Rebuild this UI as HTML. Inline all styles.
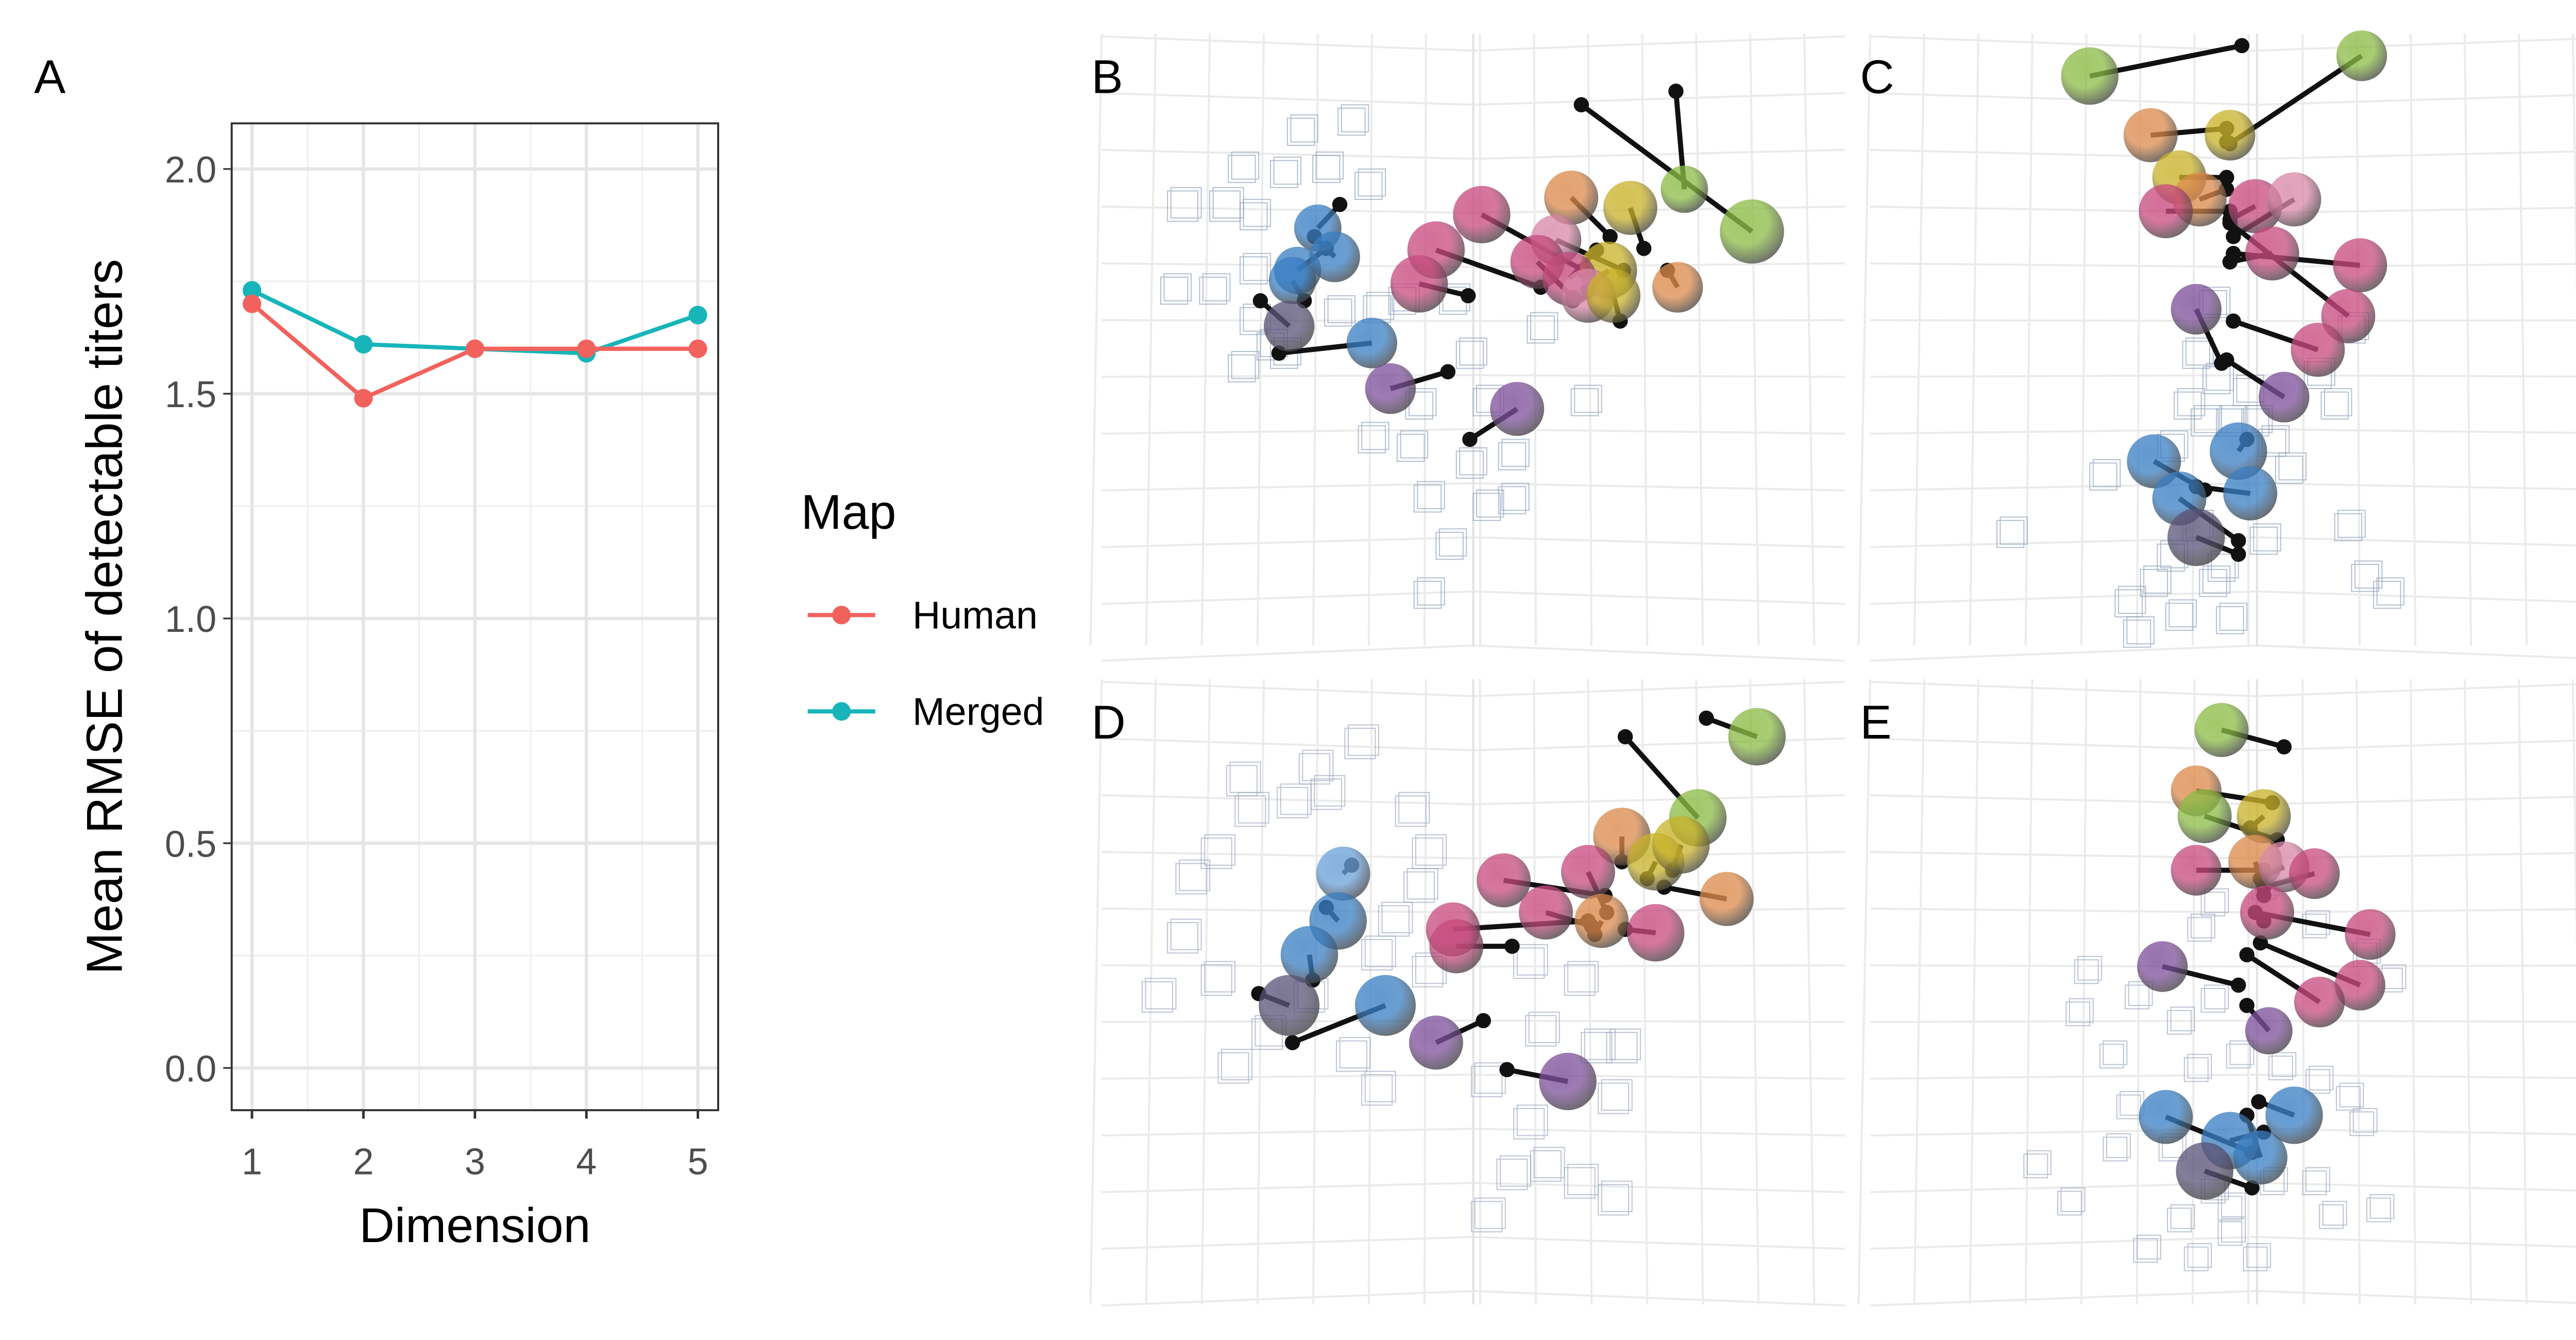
<!DOCTYPE html>
<html><head><meta charset="utf-8"><style>
html,body{margin:0;padding:0;background:#fff;}
svg{display:block;font-family:"Liberation Sans",Arial,sans-serif;}
</style></head><body>
<svg id="fig" width="5142" height="2600" viewBox="0 0 1568 793" xmlns="http://www.w3.org/2000/svg">
<defs id="defs"></defs>
<rect x="0" y="0" width="1568" height="793" fill="#fff"/>
<g id="panelA"></g>
<g id="panel3d"></g>
</svg>
<script>
// ---------- Panel A data ----------
const dims = [1, 2, 3, 4, 5];
const humanRMSE = [1.70, 1.49, 1.60, 1.60, 1.60];
const mergedRMSE = [1.73, 1.61, 1.60, 1.59, 1.675];
const yTicks = [0.0, 0.5, 1.0, 1.5, 2.0];
const yTickLabels = ["0.0", "0.5", "1.0", "1.5", "2.0"];
const xTickLabels = ["1", "2", "3", "4", "5"];

// ---------- 3D panel data (sphere x,y,r,color ; link dot x,y) ----------
const spheresB = [[780,135,14,"blue",793,121],[768,160,14,"blue",785,147],[790,152,15,"blue",778,140],[765,166,14,"blue",772,178],[763,193,15,"dark",746,178],[812,203,15,"blue",757,209],[823,230,15,"purple",857,220],[898,242,16,"purple",870,260],[877,127,17,"pink",937,160],[850,148,17,"pink",912,170],[840,168,17,"pink",869,175],[930,117,16,"orange",953,140],[921,142,15,"pinklight",961,160],[965,123,16,"yellow",973,147],[952,160,17,"yellow",940,172],[910,155,16,"pink",931,176],[929,165,16,"pink",945,148],[940,175,16,"pinklight",931,178],[955,175,16,"yellow",959,190],[993,170,15,"orange",987,160],[997,112,14,"green",992,54],[1037,137,19,"green",936,62]];
const spheresC = [[1237,45,17,"green",1327,27],[1398,33,15,"green",1320,85],[1273,80,16,"orange",1318,76],[1320,80,15,"yellow",1318,84],[1290,105,16,"yellow",1318,105],[1302,118,16,"orange",1318,112],[1282,125,16,"pink",1320,125],[1335,122,16,"pink",1320,130],[1358,118,16,"pinklight",1322,140],[1345,150,16,"pink",1320,155],[1397,157,16,"pink",1322,150],[1390,187,16,"pink",1320,132],[1372,207,16,"pink",1322,190],[1300,183,15,"purple",1315,215],[1352,235,15,"purple",1318,213],[1275,273,16,"blue",1305,290],[1325,267,17,"blue",1330,260],[1332,292,16,"blue",1300,288],[1290,295,16,"blue",1325,320],[1300,318,17,"dark",1325,328]];
const spheresD = [[1040,436,17,"green",1010,425],[1005,484,17,"green",962,436],[960,495,17,"orange",960,510],[980,510,17,"yellow",975,520],[995,500,17,"yellow",990,515],[1022,532,16,"orange",985,525],[890,521,16,"pink",950,530],[940,516,16,"pink",951,540],[915,540,16,"pink",942,548],[860,550,16,"pink",940,545],[862,560,16,"pink",895,560],[948,545,16,"orange",944,553],[980,552,17,"pink",962,550],[795,517,16,"bluelight",800,512],[792,545,17,"blue",785,537],[775,565,17,"blue",777,580],[763,595,18,"dark",745,588],[820,595,18,"blue",765,617],[850,617,16,"purple",878,604],[928,640,17,"purple",892,633]];
const spheresE = [[1315,432,16,"green",1352,442],[1300,468,15,"orange",1345,475],[1305,483,16,"green",1348,497],[1340,483,16,"yellow",1332,490],[1300,515,15,"pink",1340,515],[1335,510,16,"orange",1340,530],[1352,513,15,"pinklight",1338,520],[1370,517,15,"pink",1340,525],[1342,540,16,"pink",1340,545],[1403,553,15,"pink",1335,540],[1397,583,15,"pink",1338,558],[1373,593,15,"pink",1330,565],[1280,572,15,"purple",1325,583],[1343,610,14,"purple",1330,595],[1282,661,16,"blue",1333,682],[1320,675,17,"blue",1340,670],[1338,685,16,"blue",1330,660],[1358,660,17,"blue",1337,652],[1305,693,17,"dark",1333,703]];

const boxesB = [[700,122,9],[725,122,9],[770,78,8],[800,72,8],[785,100,8],[735,100,8],[760,103,8],[742,128,8],[695,172,8],[718,172,8],[742,160,8],[742,190,8],[752,205,8],[735,218,8],[760,210,8],[815,183,8],[830,178,8],[860,178,8],[870,210,8],[912,195,8],[840,240,8],[880,238,8],[938,238,8],[895,270,8],[870,275,8],[835,265,8],[845,295,8],[880,300,8],[858,323,8],[895,296,8],[845,352,8],[810,110,8],[792,185,8],[812,260,8]];
const boxesC = [[1300,210,8],[1312,225,8],[1330,232,8],[1295,240,8],[1335,250,8],[1305,250,8],[1345,262,8],[1320,250,8],[1285,265,8],[1245,282,8],[1355,278,8],[1300,312,8],[1285,330,8],[1315,336,8],[1275,345,8],[1310,345,8],[1260,357,8],[1290,365,8],[1320,367,8],[1390,312,8],[1413,352,8],[1400,342,8],[1190,316,8],[1310,180,8],[1392,195,8],[1372,222,8],[1382,240,8],[1340,320,8],[1265,375,8]];
const boxesD = [[735,462,9],[778,455,9],[785,470,9],[805,440,9],[740,480,9],[720,505,9],[705,520,9],[765,475,9],[835,480,9],[845,505,9],[840,525,9],[825,545,9],[815,565,9],[845,575,9],[700,555,9],[685,590,9],[720,580,9],[750,612,9],[730,632,9],[775,590,9],[800,625,9],[815,645,9],[905,570,9],[935,580,9],[912,610,9],[945,620,9],[905,665,9],[915,690,9],[935,700,9],[955,710,9],[880,720,9],[895,695,9],[955,650,9],[960,620,9],[880,640,9]];
const boxesE = [[1310,535,7],[1302,550,7],[1340,525,7],[1370,548,7],[1400,565,7],[1415,580,7],[1235,575,7],[1230,600,7],[1265,590,7],[1290,605,7],[1310,592,7],[1250,625,7],[1300,633,7],[1325,625,7],[1350,632,7],[1372,640,7],[1390,650,7],[1398,665,7],[1260,655,7],[1252,680,7],[1285,680,7],[1310,705,7],[1320,715,7],[1345,700,7],[1370,700,7],[1380,720,7],[1408,716,7],[1205,690,7],[1225,712,7],[1270,740,7],[1300,745,7],[1320,730,7],[1290,722,7],[1335,745,7]];

const colorMap = {blue:"#3a7fc4",bluelight:"#6aa0d8",dark:"#5a5378",purple:"#7d4f9a",pink:"#c84a7e",pinklight:"#d988a8",orange:"#dc8a4c",yellow:"#c9b22a",green:"#8bbb45"};

const NS = "http://www.w3.org/2000/svg";
function el(tag, attrs, parent){const e=document.createElementNS(NS,tag);for(const k in attrs)e.setAttribute(k,attrs[k]);if(parent)parent.appendChild(e);return e;}

// ---------- Panel A ----------
const A = document.getElementById("panelA");
const px0=137, px1=425, py0=73, py1=657;
const xS = d => 149 + (d-1)*(413-149)/4;
const yS = v => 632 - v*(632-100)/2;
for(let v=0.25; v<2.1; v+=0.5){const l=el("line",{x1:px0,x2:px1,y1:yS(v),y2:yS(v),stroke:"#f0f0f0","stroke-width":1},A);}
for(let d=1.5; d<5; d+=1){const l=el("line",{x1:xS(d),x2:xS(d),y1:py0,y2:py1,stroke:"#f0f0f0","stroke-width":1},A);}
yTicks.forEach((v,i)=>{
  const l=el("line",{x1:px0,x2:px1,y1:yS(v),y2:yS(v),stroke:"#e6e6e6","stroke-width":2},A);
  
  
  el("line",{x1:px0-5,x2:px0,y1:yS(v),y2:yS(v),stroke:"#333","stroke-width":1},A);
  const t=el("text",{x:px0-9,y:yS(v)+8,"text-anchor":"end","font-size":22,fill:"#4d4d4d"},A);
  t.textContent=yTickLabels[i];
  
  
});
dims.forEach((d,i)=>{
  const l=el("line",{x1:xS(d),x2:xS(d),y1:py0,y2:py1,stroke:"#e6e6e6","stroke-width":2},A);
  
  
  el("line",{x1:xS(d),x2:xS(d),y1:py1,y2:py1+5,stroke:"#333","stroke-width":1.5},A);
  const t=el("text",{x:xS(d),y:py1+38,"text-anchor":"middle","font-size":22,fill:"#4d4d4d"},A);
  t.textContent=xTickLabels[i];
  
  
});
function series(vals,color,name){
  const pts=vals.map((v,i)=>xS(dims[i])+","+yS(v)).join(" ");
  const pl=el("polyline",{points:pts,fill:"none",stroke:color,"stroke-width":2.5},A);
  
  
  vals.forEach((v,i)=>{
    const c=el("circle",{cx:xS(dims[i]),cy:yS(v),r:5.5,fill:color},A);
    
    
  });
}
series(mergedRMSE,"#17b5b9","merged");
series(humanRMSE,"#f2625d","human");
const border=el("rect",{x:px0,y:py0,width:px1-px0,height:py1-py0,fill:"none",stroke:"#333","stroke-width":1.2},A);


function txt(s,attrs,name,inter){const t=el("text",attrs,A);t.textContent=s;return t;}
txt("A",{x:20,y:55,"font-size":28,fill:"#000"},"panel-label-a");
txt("Mean RMSE of detectable titers",{x:0,y:0,"font-size":30,fill:"#000","text-anchor":"middle",transform:"translate(72,365) rotate(-90)"},"y-axis-title");
txt("Dimension",{x:281,y:735,"font-size":29,fill:"#000","text-anchor":"middle"},"x-axis-title");
txt("Map",{x:474,y:313,"font-size":29,fill:"#000"},"legend-title");
[["Human","#f2625d",364],["Merged","#17b5b9",421]].forEach(([n,c,y])=>{
  const g=el("g",{},A);
  
  
  el("line",{x1:478,x2:518,y1:y,y2:y,stroke:c,"stroke-width":2.5},g);
  el("circle",{cx:498,cy:y,r:5.5,fill:c},g);
  const t=el("text",{x:540,y:y+8,"font-size":23,fill:"#000"},g);t.textContent=n;
});

// ---------- 3D panels ----------
const defs=document.getElementById("defs");
for(const k in colorMap){
  const gr=el("radialGradient",{id:"g-"+k,cx:"40%",cy:"35%",r:"70%"},defs);
  el("stop",{offset:"0%","stop-color":colorMap[k],"stop-opacity":0.8},gr);
  el("stop",{offset:"50%","stop-color":colorMap[k],"stop-opacity":0.75},gr);
  el("stop",{offset:"100%","stop-color":"#444","stop-opacity":0.8},gr);
}
const P=document.getElementById("panel3d");
const panels=[
  {name:"b",label:"B",x0:652,y0:20,x1:1092,y1:382,sph:spheresB,box:boxesB,boxColor:"#8a9cb8"},
  {name:"c",label:"C",x0:1107,y0:20,x1:1565,y1:382,sph:spheresC,box:boxesC,boxColor:"#8a9cb8"},
  {name:"d",label:"D",x0:652,y0:402,x1:1092,y1:772,sph:spheresD,box:boxesD,boxColor:"#98a4bc"},
  {name:"e",label:"E",x0:1107,y0:402,x1:1565,y1:772,sph:spheresE,box:boxesE,boxColor:"#98a4bc"}
];
panels.forEach(p=>{
  const g=el("g",{},P);
  
  
  const cx=(p.x0+p.x1)/2;
  for(let x=p.x0; x<=p.x1; x+=32){el("line",{x1:x,x2:x+(x-cx)*0.03,y1:p.y0,y2:p.y1,stroke:"#ebebeb","stroke-width":1.2},g);}
  for(let y=p.y0+10; y<=p.y1; y+=32){
    const t=(y-p.y0)/(p.y1-p.y0);
    el("polyline",{points:`${p.x0},${y+ (t-0.5)*18} ${cx},${y} ${p.x1},${y+(t-0.5)*18}`,fill:"none",stroke:"#ebebeb","stroke-width":1.2},g);
  }
  el("line",{x1:cx,x2:cx,y1:p.y0,y2:p.y1,stroke:"#e2e2e2","stroke-width":1.2},g);
  p.box.forEach(b=>{
    const bg=el("g",{fill:"none",stroke:p.boxColor,"stroke-width":0.6,opacity:0.65},g);
    
    
    el("rect",{x:b[0]-b[2],y:b[1]-b[2],width:2*b[2],height:2*b[2]},bg);
    el("rect",{x:b[0]-b[2]+2,y:b[1]-b[2]-2,width:2*b[2],height:2*b[2]},bg);
  });
  p.sph.forEach(s=>{
    const l=el("line",{x1:s[0],y1:s[1],x2:s[4],y2:s[5],stroke:"#111","stroke-width":3},g);
    
    
    const d=el("circle",{cx:s[4],cy:s[5],r:4.5,fill:"#111"},g);
    
    
  });
  p.sph.forEach(s=>{
    const c=el("circle",{cx:s[0],cy:s[1],r:s[2],fill:"url(#g-"+s[3]+")"},g);
    
    
  });
  const t=el("text",{x:p.x0-6,y:p.y0+35,"font-size":28,fill:"#000"},g);
  t.textContent=p.label;
  
  
});
</script>
</body></html>
